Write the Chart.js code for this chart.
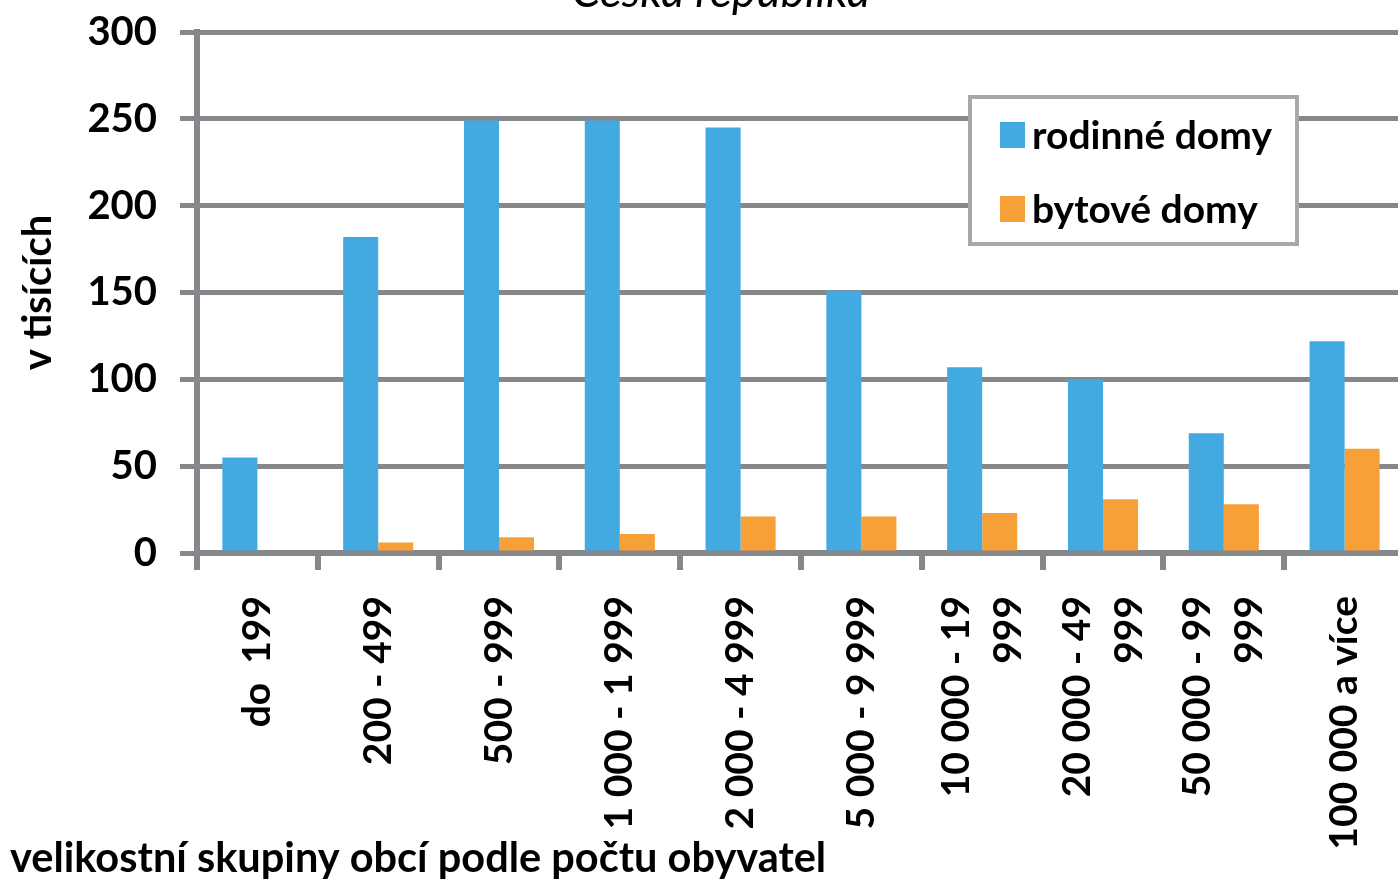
<!DOCTYPE html>
<html><head><meta charset="utf-8">
<script src="https://cdn.jsdelivr.net/npm/chart.js@4"></script>
<style>
html,body{margin:0;padding:0;background:#fff;overflow:hidden;width:1398px;height:882px}
#wrap{position:absolute;left:0;top:0;width:1420px;height:882px}
</style></head><body>
<div id="wrap"><canvas id="c" width="1420" height="882"></canvas></div>
<script>
const categories = ['do  199','200 - 499','500 - 999','1 000 - 1 999','2 000 - 4 999','5 000 - 9 999',['10 000 - 19','999'],['20 000 - 49','999'],['50 000 - 99','999'],'100 000 a více'];
const rodinneDomy = [55,182,249,249,245,151,107,100,69,122];
const bytoveDomy = [0,6,9,11,21,21,23,31,28,60];
const yTicks = [0,50,100,150,200,250,300];
const seriesNames = ['rodinné domy','bytové domy'];
const titleText = 'Česká republika';
const xTitle = 'velikostní skupiny obcí podle počtu obyvatel';
const yTitle = 'v tisících';

const GRAY = '#86878B';
const BLUE = '#42AAE1';
const ORANGE = '#F7A037';
const FONT = 'Lato';

const textsPlugin = {
  id:'texts',
  afterDraw(chart){
    const ctx = chart.ctx;
    ctx.save();
    ctx.fillStyle = '#000';
    ctx.textBaseline = 'alphabetic';
    ctx.font = 'italic 400 46px ' + FONT;
    ctx.textAlign = 'center';
    ctx.fillText(titleText, 721, 7);
    ctx.font = 'bold 41.5px ' + FONT;
    ctx.textAlign = 'left';
    ctx.fillText(xTitle, 10, 872);
    ctx.restore();
  }
};

const boxLegend = {
  id:'boxLegend',
  afterDraw(chart){
    const ctx = chart.ctx;
    const x = 970, y = 97, w = 327, h = 147;
    ctx.save();
    ctx.fillStyle = '#fff';
    ctx.fillRect(x, y, w, h);
    ctx.lineWidth = 4;
    ctx.strokeStyle = '#A6A8AB';
    ctx.strokeRect(x, y, w, h);
    ctx.font = 'bold 39px ' + FONT;
    ctx.textBaseline = 'middle';
    ctx.textAlign = 'left';
    chart.data.datasets.forEach((ds, i) => {
      const cy = 135 + i * 74;
      ctx.fillStyle = ds.backgroundColor;
      ctx.fillRect(1000, cy - 13, 25, 26);
      ctx.fillStyle = '#000';
      ctx.fillText(ds.label, 1032, cy + 1);
    });
    ctx.restore();
  }
};

const shiftMultiline = {
  id:'shiftMultiline',
  beforeDraw(chart){
    const sc = chart.scales.x;
    const items = sc.getLabelItems();
    items.forEach(it => {
      if (Array.isArray(it.label) && !it._shifted) {
        it.options.translation[0] -= it.font.lineHeight / 2;
        it._shifted = true;
      }
    });
  }
};

new Chart(document.getElementById('c'), {
  type:'bar',
  data:{
    labels: categories,
    datasets:[
      {label: seriesNames[0], data: rodinneDomy, backgroundColor: BLUE, borderWidth:0},
      {label: seriesNames[1], data: bytoveDomy, backgroundColor: ORANGE, borderWidth:0}
    ]
  },
  options:{
    responsive:false,
    devicePixelRatio:1,
    animation:false,
    layout:{padding:{left:10, top:32, right:15, bottom:0}},
    datasets:{bar:{categoryPercentage:0.58, barPercentage:1}},
    plugins:{
      legend:{display:false},
      tooltip:{enabled:false},
      title:{display:false}
    },
    scales:{
      x:{
        grid:{drawOnChartArea:false, drawTicks:true, tickLength:17, color:GRAY, lineWidth:6, offset:true},
        border:{display:true, color:GRAY, width:6},
        ticks:{autoSkip:false, minRotation:90, maxRotation:90, padding:26, color:'#000',
          font:{family:FONT, weight:'bold', size:39, lineHeight:1.33}},
        afterFit(s){ s.height = 882 - 553; s.paddingLeft = 0; s.paddingRight = 0; }
      },
      y:{
        min:0, max:300,
        afterBuildTicks(s){ s.ticks = yTicks.map(v => ({value:v})); },
        grid:{color:GRAY, lineWidth:5, tickLength:17},
        border:{display:true, color:GRAY, width:6},
        ticks:{padding:23, color:'#000', font:{family:FONT, weight:'bold', size:40}},
        title:{display:true, text:yTitle, color:'#000', padding:{top:4, bottom:0},
          font:{family:FONT, weight:'bold', size:40, lineHeight:1.2}},
        afterFit(s){ s.width = 187; s.paddingTop = 0; s.paddingBottom = 0; }
      }
    }
  },
  plugins:[shiftMultiline, textsPlugin, boxLegend]
});
</script>
</body></html>
